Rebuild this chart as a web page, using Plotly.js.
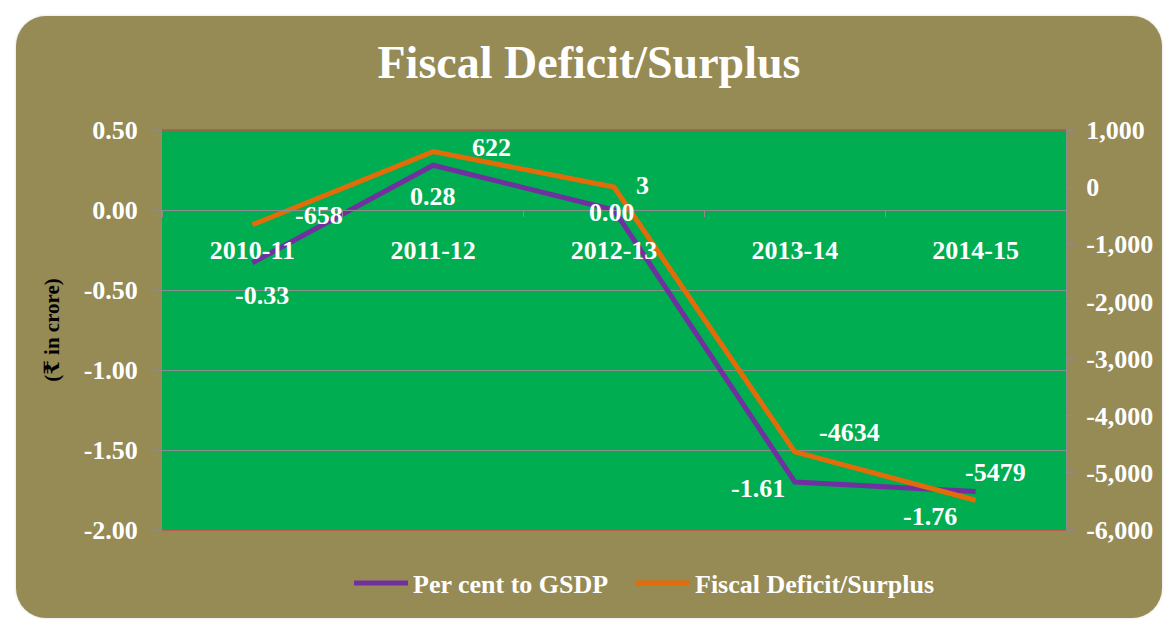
<!DOCTYPE html>
<html>
<head>
<meta charset="utf-8">
<script src="https://cdn.plot.ly/plotly-3.0.1.min.js"></script>
<style>
  html, body { margin: 0; padding: 0; background: #ffffff; }
  #box {
    position: absolute; left: 16px; top: 16px; width: 1146px; height: 602px;
    background: #968A55; border-radius: 30px; overflow: hidden;
    box-shadow: 0 0 3px rgba(0,0,0,0.15);
  }
  #chart { width: 1146px; height: 602px; }
</style>
</head>
<body>
<div id="box"><div id="chart"></div></div>
<script>
// ---- data ----
const years = ["2010-11", "2011-12", "2012-13", "2013-14", "2014-15"];
// plotted positions
const perCentToGSDP = [-0.33, 0.28, 0.00, -1.70, -1.76];
const fiscalDeficit = [-658, 622, 3, -4634, -5479];
// data labels as printed on the picture
const perCentLabels = ["-0.33", "0.28", "0.00", "-1.61", "-1.76"];
const fiscalLabels = ["-658", "622", "3", "-4634", "-5479"];
const leftTickVals = [0.5, 0, -0.5, -1, -1.5, -2];
const leftTickText = ["0.50", "0.00", "-0.50", "-1.00", "-1.50", "-2.00"];
const rightTickVals = [1000, 0, -1000, -2000, -3000, -4000, -5000, -6000];
const rightTickText = ["1,000", "0", "-1,000", "-2,000", "-3,000", "-4,000", "-5,000", "-6,000"];

// ---- style ----
const FONT = "'Liberation Serif', 'Times New Roman', 'DejaVu Serif', serif";
const PURPLE = "#7030A0";
const ORANGE = "#E36C0A";
const GRID = "#8C8C8C";
// label offsets in pixels [xshift, yshift]
const perCentOffsets = [[10, -33], [0, -31], [-2, -2], [-37, -6], [-46, -25]];
const fiscalOffsets = [[67, 9], [58, 4], [28, 1], [55, 19], [20, 28]];

const traces = [
  {
    x: years, y: perCentToGSDP, type: "scatter", mode: "lines",
    name: "Per cent to GSDP", yaxis: "y", legend: "legend",
    line: { color: PURPLE, width: 5 }
  },
  {
    x: years, y: fiscalDeficit, type: "scatter", mode: "lines",
    name: "Fiscal Deficit/Surplus", yaxis: "y2", legend: "legend2",
    line: { color: ORANGE, width: 5 }
  }
];

const annotations = [];
years.forEach((yr, i) => {
  annotations.push({
    x: yr, y: perCentToGSDP[i], xref: "x", yref: "y",
    text: perCentLabels[i], showarrow: false,
    xshift: perCentOffsets[i][0], yshift: perCentOffsets[i][1],
    font: { family: FONT, size: 26, color: "#ffffff", weight: "bold" }
  });
  annotations.push({
    x: yr, y: fiscalDeficit[i], xref: "x", yref: "y2",
    text: fiscalLabels[i], showarrow: false,
    xshift: fiscalOffsets[i][0], yshift: fiscalOffsets[i][1],
    font: { family: FONT, size: 26, color: "#ffffff", weight: "bold" }
  });
});

const legendStyle = (leftPx) => ({
  orientation: "h", x: (leftPx - 162) / 904, xanchor: "left",
  y: -0.13, yanchor: "middle",
  itemwidth: 54,
  font: { family: FONT, size: 26, color: "#ffffff", weight: "bold" },
  bgcolor: "rgba(0,0,0,0)"
});

const layout = {
  width: 1146, height: 602,
  margin: { l: 146, r: 96, t: 114, b: 87 },
  paper_bgcolor: "rgba(0,0,0,0)",
  plot_bgcolor: "#00AD50",
  showlegend: true,
  title: {
    text: "<b>Fiscal Deficit/Surplus</b>",
    font: { family: FONT, size: 46, color: "#ffffff" },
    x: 0.5, xanchor: "center", y: 1 - 46 / 602, yanchor: "middle"
  },
  xaxis: {
    type: "category",
    range: [-0.5, years.length - 0.5],
    anchor: "free", position: 0.8,
    showline: true, linecolor: GRID, linewidth: 1,
    ticks: "outside", tickson: "boundaries", ticklen: 6, tickcolor: GRID,
    ticklabelstandoff: 17,
    showgrid: false, zeroline: false,
    tickfont: { family: FONT, size: 26, color: "#ffffff", weight: "bold" },
    fixedrange: true
  },
  yaxis: {
    range: [-2, 0.5],
    tickvals: leftTickVals, ticktext: leftTickText,
    showgrid: true, gridcolor: GRID, gridwidth: 1, zeroline: false,
    showline: true, linecolor: GRID, linewidth: 1,
    ticks: "outside", ticklen: 8, tickcolor: GRID,
    ticklabelstandoff: 10,
    tickfont: { family: FONT, size: 26, color: "#ffffff", weight: "bold" },
    title: {
      text: "<b>(₹ in crore)</b>",
      font: { family: FONT, size: 21, color: "#000000" },
      standoff: 18
    },
    fixedrange: true
  },
  yaxis2: {
    range: [-6000, 1000],
    overlaying: "y", side: "right",
    tickvals: rightTickVals, ticktext: rightTickText,
    showgrid: false, zeroline: false,
    showline: true, linecolor: GRID, linewidth: 1,
    ticks: "outside", ticklen: 8, tickcolor: GRID,
    ticklabelstandoff: 6,
    tickfont: { family: FONT, size: 26, color: "#ffffff", weight: "bold" },
    fixedrange: true
  },
  legend: legendStyle(349),
  legend2: legendStyle(631),
  shapes: [
    { type: "line", xref: "paper", yref: "paper", x0: 0, x1: 1, y0: 1, y1: 1,
      line: { color: "#C0504D", width: 1.5 } },
    { type: "line", xref: "paper", yref: "paper", x0: 0, x1: 1, y0: 0, y1: 0,
      line: { color: "#C0504D", width: 1.5 } }
  ],
  annotations: annotations
};

Plotly.newPlot("chart", traces, layout, { displayModeBar: false, staticPlot: true });
</script>
</body>
</html>
